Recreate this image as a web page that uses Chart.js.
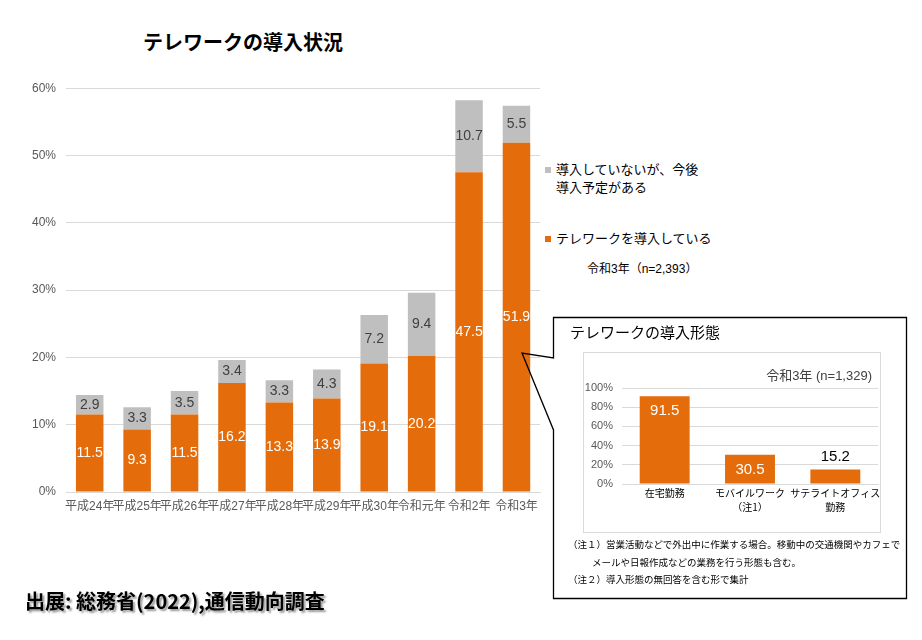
<!DOCTYPE html>
<html lang="ja">
<head>
<meta charset="utf-8">
<script src="https://cdn.jsdelivr.net/npm/chart.js@4.4.1/dist/chart.umd.min.js"></script>
<style>
  body { margin: 0; width: 922px; height: 640px; background: #fff; position: relative; overflow: hidden;
         font-family: "Liberation Sans", "Noto Sans CJK JP", sans-serif; }
  .abs { position: absolute; white-space: nowrap; }
  #mainTitle { left: 143px; top: 30px; font-size: 20px; line-height: 24px; font-weight: bold; font-family: "Noto Sans CJK JP", sans-serif; }
  #mainWrap { left: 0; top: 71px; }
  #legend { left: 545px; top: 161px; font-size: 13px; line-height: 18px; color: #000; }
  .lg { position: absolute; left: 0; }
  .lg i { position: absolute; left: 0; top: 6px; width: 6px; height: 6px; }
  .lg span { position: absolute; left: 11px; top: 0; }
  #mainN { left: 587px; top: 260px; font-size: 12px; line-height: 18px; }
  #insetTitle { left: 570px; top: 322px; font-size: 15px; line-height: 20px; font-family: "Noto Sans CJK JP", sans-serif; }
  #insetBox { left: 583px; top: 352px; width: 296px; height: 179px; border: 1px solid #D9D9D9; }
  #insetWrap { left: 584px; top: 353px; }
  #insetN { left: 700px; width: 172px; text-align: right; top: 367px; font-size: 13px; line-height: 18px; color: #404040; }
  .note { font-size: 9.5px; line-height: 14px; color: #000; }
  #source { left: 25px; top: 589px; font-size: 20px; line-height: 24px; font-weight: bold;
            font-family: "Noto Sans CJK JP", sans-serif; text-shadow: 2px 2px 2px #999; }
  svg { position: absolute; left: 0; top: 0; pointer-events: none; }
</style>
</head>
<body>
<div id="mainTitle" class="abs">テレワークの導入状況</div>
<div id="mainWrap" class="abs"><canvas id="mainChart" width="545" height="452"></canvas></div>
<div id="legend" class="abs"></div>
<div id="mainN" class="abs">令和3年（n=2,393）</div>

<svg width="922" height="640">
  <path d="M553.5,358 L553.5,317.5 L906.5,317.5 L906.5,598.5 L553.5,598.5 L553.5,430 L522,353 Z"
        fill="none" stroke="#000" stroke-width="1.3"/>
</svg>
<div id="insetTitle" class="abs">テレワークの導入形態</div>
<div id="insetBox" class="abs"></div>
<div id="insetWrap" class="abs"><canvas id="insetChart" width="318" height="178"></canvas></div>
<div id="insetN" class="abs">令和3年 (n=1,329)</div>
<div class="abs note" style="left:568px; top:538px;">（注１）営業活動などで外出中に作業する場合。移動中の交通機関やカフェで</div>
<div class="abs note" style="left:592px; top:556px;">メールや日報作成などの業務を行う形態も含む。</div>
<div class="abs note" style="left:568px; top:573px;">（注２）導入形態の無回答を含む形で集計</div>

<div id="source" class="abs">出展: 総務省(2022),通信動向調査</div>

<script>
// 導入状況（%）
const years = ["平成24年", "平成25年", "平成26年", "平成27年", "平成28年", "平成29年", "平成30年", "令和元年", "令和2年", "令和3年"];
const adopted = [11.5, 9.3, 11.5, 16.2, 13.3, 13.9, 19.1, 20.2, 47.5, 51.9];
const planned = [2.9, 3.3, 3.5, 3.4, 3.3, 4.3, 7.2, 9.4, 10.7, 5.5];
const adoptedName = ["テレワークを導入している"];
const plannedName = ["導入していないが、今後", "導入予定がある"];

// 導入形態（%）
const forms = [["在宅勤務"], ["モバイルワーク", "（注1）"], ["サテライトオフィス", "勤務"]];
const formValues = [91.5, 30.5, 15.2];

const ORANGE = "#E46C0A";
const GRAY = "#BFBFBF";

// 棒の数値ラベル
const valueLabels = {
  id: "valueLabels",
  afterDatasetsDraw(chart, args, opts) {
    const ctx = chart.ctx;
    ctx.save();
    ctx.font = opts.font;
    ctx.textAlign = "center";
    ctx.textBaseline = "middle";
    chart.data.datasets.forEach((ds, i) => {
      const meta = chart.getDatasetMeta(i);
      meta.data.forEach((bar, j) => {
        let y = (bar.y + bar.base) / 2;
        let color = ds.labelColor;
        if (opts.mode === "end") {
          if (bar.base - bar.y > 28) {
            y = bar.y + 15;
          } else {
            y = bar.y - 13;
            color = "#000";
          }
        }
        ctx.fillStyle = color;
        ctx.fillText(ds.data[j].toFixed(1), bar.x, y);
      });
    });
    ctx.restore();
  }
};

// 凡例
const legend = document.getElementById("legend");
legend.innerHTML = `
  <div class="lg" style="top:0"><i style="background:${GRAY}"></i><span>${plannedName.join("<br>")}</span></div>
  <div class="lg" style="top:69px"><i style="background:${ORANGE}"></i><span>${adoptedName.join("<br>")}</span></div>`;

new Chart(document.getElementById("mainChart"), {
  type: "bar",
  data: {
    labels: years,
    datasets: [
      { label: adoptedName.join(""), data: adopted, backgroundColor: ORANGE, labelColor: "#fff" },
      { label: plannedName.join(""), data: planned, backgroundColor: GRAY, labelColor: "#404040" }
    ]
  },
  options: {
    responsive: false,
    animation: false,
    layout: { padding: { top: 17, right: 4, left: 0, bottom: 0 } },
    datasets: { bar: { categoryPercentage: 1, barPercentage: 0.58 } },
    plugins: {
      legend: { display: false },
      tooltip: { enabled: false },
      valueLabels: { font: '14px "Liberation Sans", sans-serif', mode: "center" }
    },
    scales: {
      x: {
        stacked: true,
        grid: { display: false, drawTicks: false },
        border: { color: "#D9D9D9" },
        ticks: { color: "#595959", font: { size: 12, family: '"Liberation Sans", "Noto Sans CJK JP", sans-serif' },
                 maxRotation: 0, autoSkip: false, padding: 7 },
        afterFit: (s) => { s.height = 31; }
      },
      y: {
        stacked: true,
        min: 0, max: 60,
        grid: { color: "#D9D9D9", drawTicks: false },
        border: { display: false },
        ticks: { stepSize: 10, color: "#595959", padding: 10,
                 font: { size: 12, family: '"Liberation Sans", sans-serif' },
                 callback: (v) => v + "%" },
        afterFit: (s) => { s.width = 66; }
      }
    }
  },
  plugins: [valueLabels]
});

new Chart(document.getElementById("insetChart"), {
  type: "bar",
  data: {
    labels: forms,
    datasets: [{ data: formValues, backgroundColor: ORANGE, labelColor: "#fff" }]
  },
  options: {
    responsive: false,
    animation: false,
    layout: { padding: { top: 35, right: 24, left: 0, bottom: 0 } },
    datasets: { bar: { categoryPercentage: 1, barPercentage: 0.585 } },
    plugins: {
      legend: { display: false },
      tooltip: { enabled: false },
      valueLabels: { font: '15px "Liberation Sans", sans-serif', mode: "end" }
    },
    scales: {
      x: {
        grid: { display: false, drawTicks: false },
        border: { color: "#D9D9D9" },
        ticks: { color: "#000", font: { size: 10, family: '"Noto Sans CJK JP", sans-serif', lineHeight: 1.4 },
                 maxRotation: 0, autoSkip: false, padding: 2 },
        afterFit: (s) => { s.height = 47; }
      },
      y: {
        min: 0, max: 100,
        grid: { color: "#D9D9D9", drawTicks: false },
        border: { display: false },
        ticks: { stepSize: 20, color: "#595959", padding: 9,
                 font: { size: 11, family: '"Liberation Sans", sans-serif' },
                 callback: (v) => v + "%" },
        afterFit: (s) => { s.width = 38; }
      }
    }
  },
  plugins: [valueLabels]
});
</script>
</body>
</html>
